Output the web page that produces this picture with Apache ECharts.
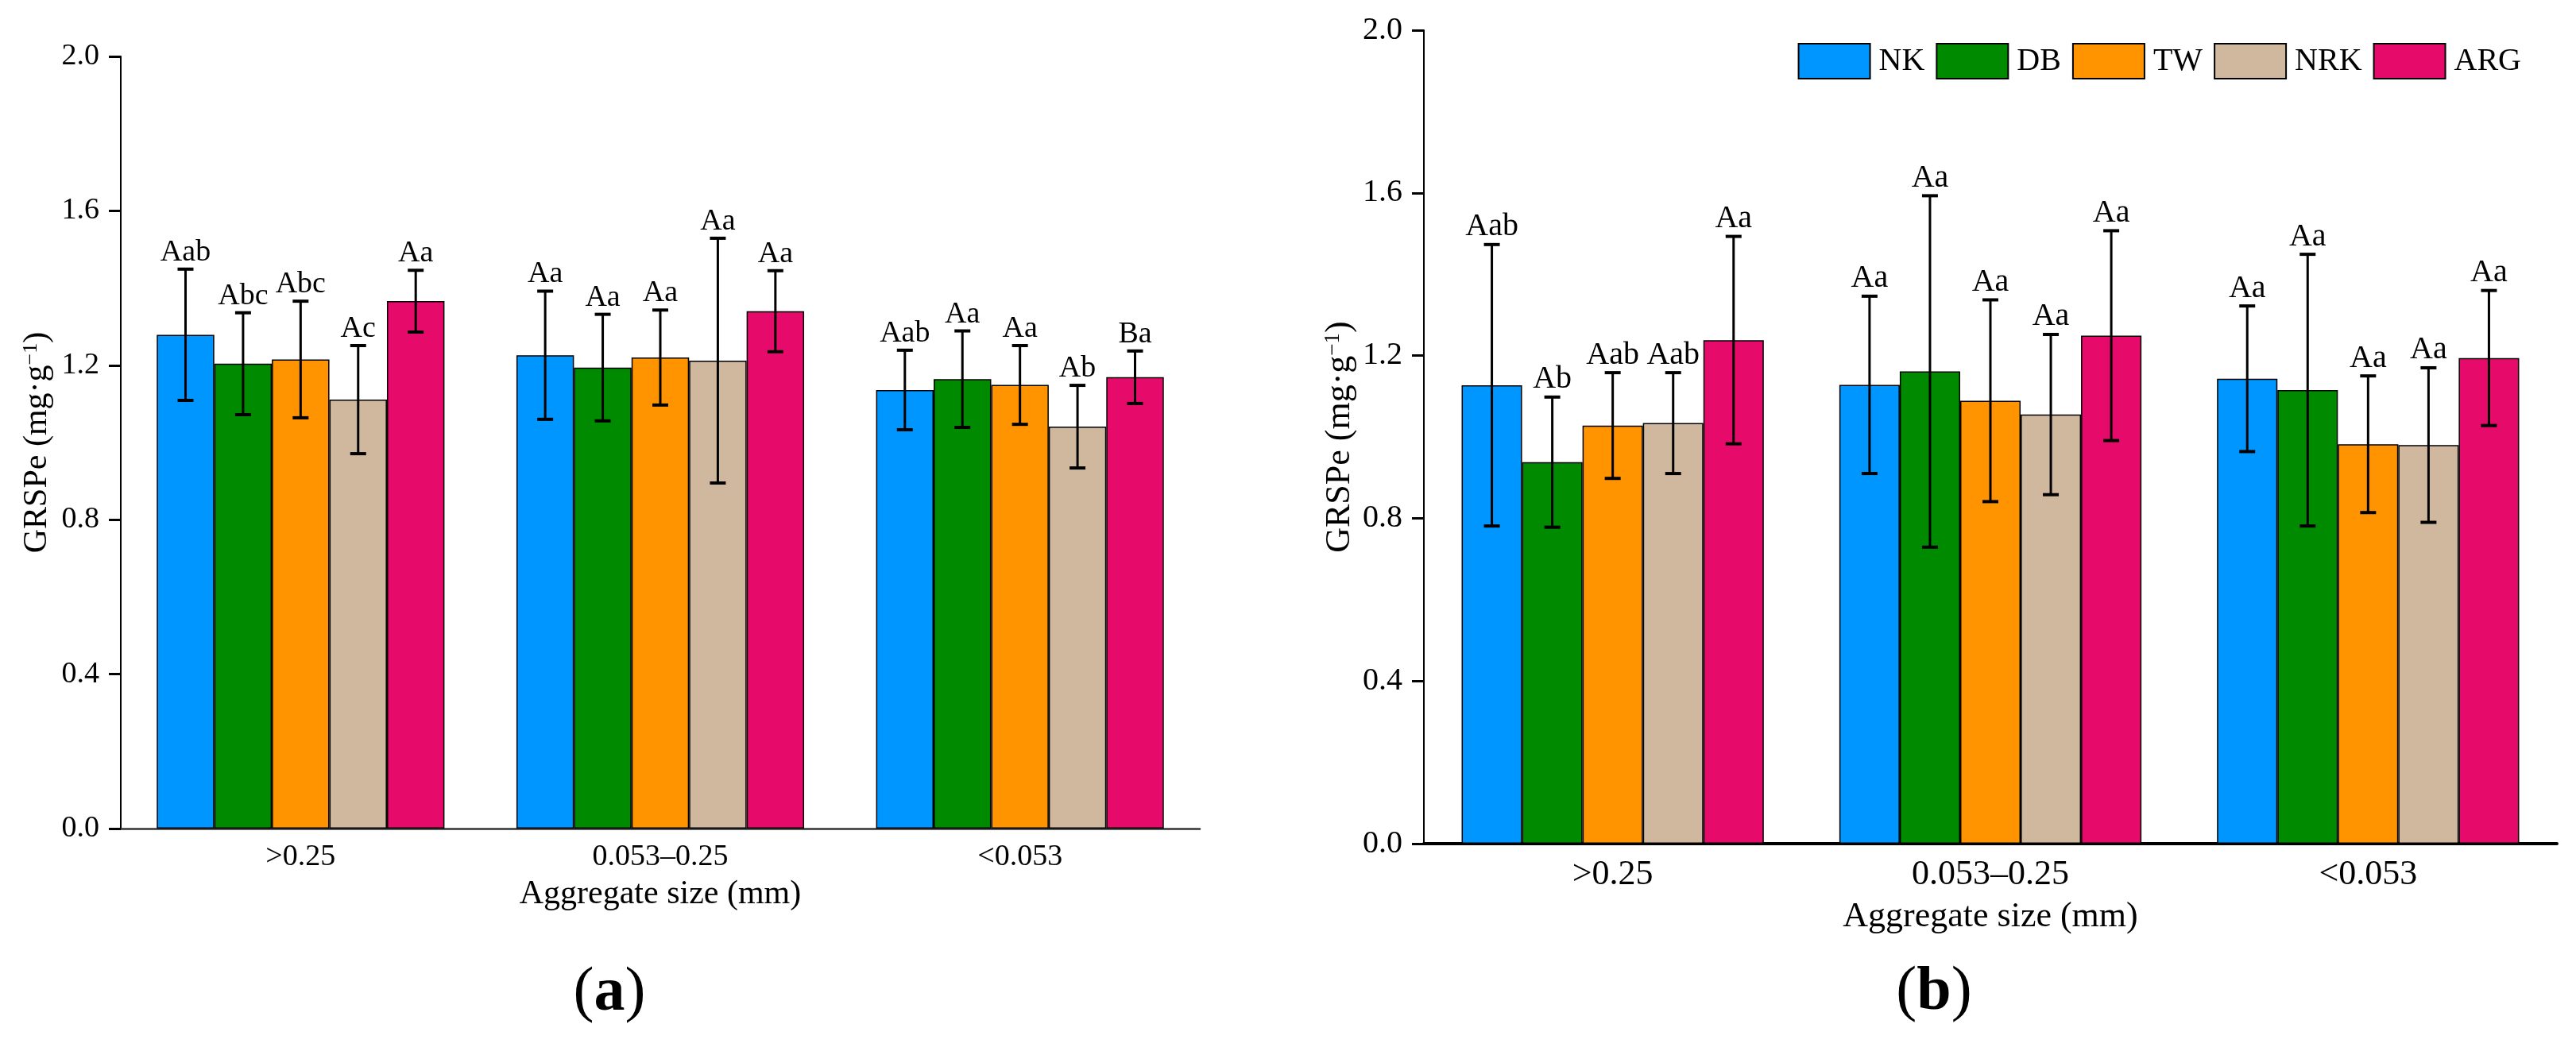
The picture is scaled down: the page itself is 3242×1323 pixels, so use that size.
<!DOCTYPE html>
<html>
<head>
<meta charset="utf-8">
<script src="https://cdn.jsdelivr.net/npm/echarts@6/dist/echarts.min.js"></script>
<style>
  html, body { margin: 0; padding: 0; background: #fff; }
  #chart { width: 3242px; height: 1323px; }
</style>
</head>
<body>
<div id="chart"></div>
<script>
const categories = [">0.25", "0.053–0.25", "<0.053"];
const treatments = ["NK", "DB", "TW", "NRK", "ARG"];
const colors = ["#0096ff", "#008a00", "#ff9400", "#d0b89e", "#e60a6a"];

// panel (a): one row per treatment, one value per aggregate size
const meansA = [
  [1.279, 1.226, 1.136],
  [1.204, 1.194, 1.164],
  [1.215, 1.220, 1.149],
  [1.111, 1.212, 1.041],
  [1.366, 1.340, 1.169],
];
const errA = [
  [0.170, 0.166, 0.103],
  [0.132, 0.138, 0.125],
  [0.151, 0.123, 0.102],
  [0.140, 0.317, 0.107],
  [0.080, 0.105, 0.068],
];
const lettersA = [
  ["Aab", "Aa", "Aab"],
  ["Abc", "Aa", "Aa"],
  ["Abc", "Aa", "Aa"],
  ["Ac", "Aa", "Ab"],
  ["Aa", "Aa", "Ba"],
];

// panel (b)
const meansB = [
  [1.127, 1.128, 1.143],
  [0.938, 1.161, 1.115],
  [1.028, 1.089, 0.982],
  [1.034, 1.055, 0.980],
  [1.238, 1.249, 1.194],
];
const errB = [
  [0.346, 0.218, 0.179],
  [0.160, 0.432, 0.334],
  [0.130, 0.248, 0.168],
  [0.124, 0.197, 0.190],
  [0.255, 0.258, 0.166],
];
const lettersB = [
  ["Aab", "Aa", "Aa"],
  ["Ab", "Aa", "Aa"],
  ["Aab", "Aa", "Aa"],
  ["Aab", "Aa", "Aa"],
  ["Aa", "Aa", "Aa"],
];

const FONT = "Liberation Serif";

function barSeries(means, axis) {
  return treatments.map((name, i) => ({
    name: name,
    type: "bar",
    xAxisIndex: axis,
    yAxisIndex: axis,
    barGap: "0%",
    barCategoryGap: "20%",
    data: means[i],
    itemStyle: { color: colors[i], borderColor: "#000", borderWidth: 1.5 },
    z: 2,
  }));
}

function errorSeries(means, errs, letters, axis, fontSize) {
  const data = [];
  treatments.forEach((t, i) => {
    categories.forEach((c, j) => {
      data.push([j, means[i][j], errs[i][j], i]);
    });
  });
  return {
    type: "custom",
    xAxisIndex: axis,
    yAxisIndex: axis,
    silent: true,
    z: 5,
    data: data,
    renderItem: function (params, api) {
      const ci = api.value(0);
      const mean = api.value(1);
      const err = api.value(2);
      const ti = api.value(3);
      const band = api.size([1, 0])[0];
      const bw = (band * 0.8) / treatments.length;
      const x = api.coord([ci, 0])[0] + (ti - 2) * bw;
      const yTop = api.coord([ci, mean + err])[1];
      const yBot = api.coord([ci, mean - err])[1];
      const cap = 10;
      const line = { stroke: "#000", lineWidth: 3 };
      const capStyle = { stroke: "#000", lineWidth: 4 };
      return {
        type: "group",
        children: [
          { type: "line", shape: { x1: x, y1: yTop, x2: x, y2: yBot }, style: line },
          { type: "line", shape: { x1: x - cap, y1: yTop, x2: x + cap, y2: yTop }, style: capStyle },
          { type: "line", shape: { x1: x - cap, y1: yBot, x2: x + cap, y2: yBot }, style: capStyle },
          {
            type: "text",
            x: x,
            y: yTop - 2,
            style: {
              text: letters[ti][ci],
              fontSize: fontSize,
              fontFamily: FONT,
              fill: "#000",
              align: "center",
              verticalAlign: "bottom",
            },
          },
        ],
      };
    },
  };
}

function xAxis(grid, labelSize, nameSize, gap, lineWidth, lineColor) {
  return {
    type: "category",
    gridIndex: grid,
    data: categories,
    axisLine: { lineStyle: { color: lineColor, width: lineWidth } },
    axisTick: { show: false },
    axisLabel: { fontSize: labelSize, fontFamily: FONT, color: "#000", margin: 17 },
    name: "Aggregate size (mm)",
    nameLocation: "middle",
    nameGap: gap,
    nameTextStyle: { fontSize: nameSize, fontFamily: FONT, color: "#000" },
  };
}

function yAxis(grid, labelSize, nameSize, gap) {
  return {
    type: "value",
    gridIndex: grid,
    min: 0,
    max: 2,
    interval: 0.4,
    splitLine: { show: false },
    axisLine: { show: true, lineStyle: { color: "#000", width: 2 } },
    axisTick: { show: true, length: 15, lineStyle: { color: "#000", width: 3 } },
    axisLabel: {
      fontSize: labelSize,
      fontFamily: FONT,
      color: "#000",
      margin: 27,
      formatter: (v) => v.toFixed(1),
    },
    name: "{n|GRSPe (mg·g}{s|−1}{n|)}",
    nameLocation: "middle",
    nameRotate: 90,
    nameGap: gap,
    nameTextStyle: {
      color: "#000",
      fontFamily: FONT,
      rich: {
        n: { fontSize: nameSize, fontFamily: FONT, color: "#000" },
        s: { fontSize: Math.round(nameSize * 0.62), fontFamily: FONT, color: "#000", verticalAlign: "top" },
      },
    },
  };
}

function panelTag(letter, x, y) {
  return {
    type: "text",
    x: x,
    y: y,
    style: {
      text: "{p|(}{b|" + letter + "}{p|)}",
      fill: "#000",
      align: "center",
      verticalAlign: "middle",
      rich: {
        p: { fontSize: 78, fontFamily: FONT, color: "#000" },
        b: { fontSize: 78, fontFamily: FONT, fontWeight: "bold", color: "#000" },
      },
    },
  };
}

const chart = echarts.init(document.getElementById("chart"));
chart.setOption({
  animation: false,
  backgroundColor: "#fff",
  textStyle: { fontFamily: FONT },
  grid: [
    { left: 152, top: 71, width: 1358, height: 972 },
    { left: 1792, top: 38, width: 1426, height: 1024 },
  ],
  legend: {
    data: treatments,
    right: 64,
    top: 49,
    itemWidth: 90,
    itemHeight: 44,
    itemGap: 14,
    icon: "rect",
    textStyle: { fontSize: 40, fontFamily: FONT, color: "#000", padding: [0, 0, 0, 6] },
  },
  xAxis: [xAxis(0, 38, 42, 62, 2.5, "#333"), xAxis(1, 44, 44, 70, 4, "#000")],
  yAxis: [yAxis(0, 38, 42, 84), yAxis(1, 40, 44, 84)],
  series: [
    ...barSeries(meansA, 0),
    errorSeries(meansA, errA, lettersA, 0, 38),
    ...barSeries(meansB, 1),
    errorSeries(meansB, errB, lettersB, 1, 40),
  ],
  graphic: [panelTag("a", 767, 1251), panelTag("b", 2434, 1250)],
});

window.addEventListener("resize", () => {
  chart.resize();
});
</script>
</body>
</html>
